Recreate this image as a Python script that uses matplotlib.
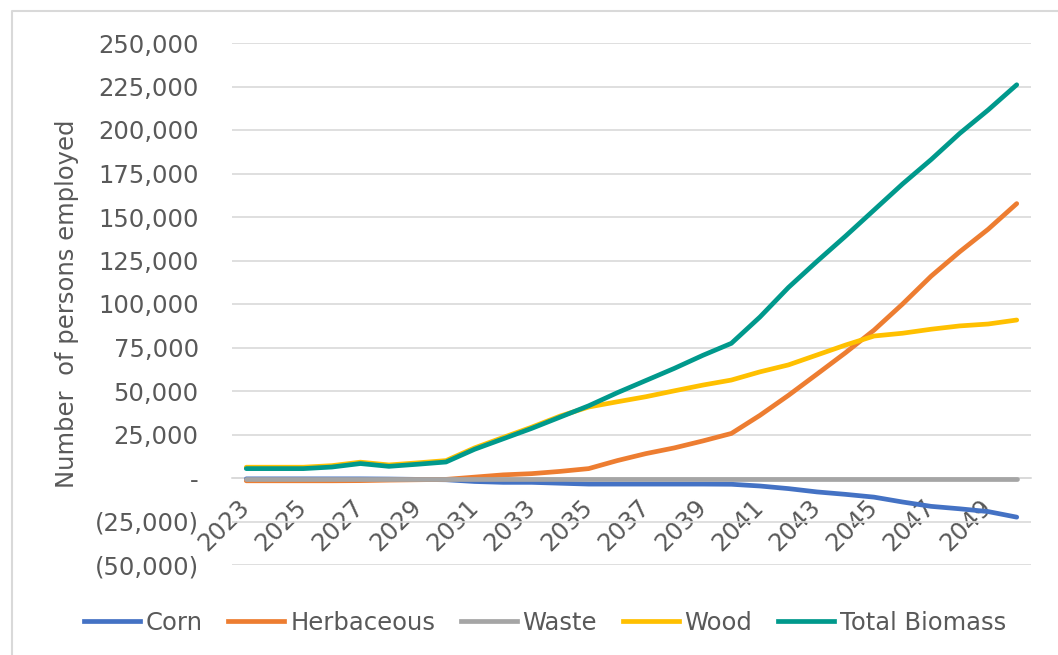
import matplotlib
matplotlib.use('Agg')
import matplotlib.pyplot as plt
from matplotlib.ticker import FuncFormatter
from matplotlib.lines import Line2D

# jobs per feedstock, 2023 - 2050
years = list(range(2023, 2051))
corn = [-500, -500, -500, -500, -500, -600, -800, -1000, -2000, -2500,
        -2500, -3000, -3500, -3500, -3500, -3500, -3500, -3600, -4600, -6100,
        -8000, -9400, -11000, -13800, -16300, -17700, -19300, -22500]
herbaceous = [-1600, -1600, -1600, -1600, -1500, -1200, -1000, -800, 500, 1800,
              2500, 3800, 5400, 10000, 14000, 17300, 21300, 25600, 36000, 47500,
              59700, 72000, 85000, 100000, 116000, 130000, 143000, 157700]
waste = [-600] * 28
wood = [6200, 6200, 6200, 7100, 9100, 7500, 8700, 10000, 17300, 23300,
        29200, 35600, 40800, 43800, 46700, 50100, 53400, 56300, 61000, 65000,
        70700, 76400, 81600, 83200, 85500, 87400, 88500, 90800]
total = [5400, 5400, 5400, 6300, 8300, 6700, 7900, 9200, 16500, 22500,
         28500, 35000, 41500, 49000, 56000, 63000, 70500, 77400, 92500, 109500,
         124500, 139000, 154000, 169000, 183000, 198000, 211500, 226000]

series_names = ['Corn', 'Herbaceous', 'Waste', 'Wood', 'Total Biomass']
series_data = [corn, herbaceous, waste, wood, total]
colors = ['#4472C4', '#ED7D31', '#A5A5A5', '#FFC000', '#00998C']
xtick_years = years[::2]

txt = '#595959'
grid = '#D9D9D9'
fs = 17.5

W, H = 1058, 655
fig = plt.figure(figsize=(W / 100, H / 100), dpi=100)
ax = fig.add_axes([232 / W, 1 - 565 / H, (1031 - 232) / W, (565 - 43) / H])

for name, vals, c in zip(series_names, series_data, colors):
    ax.plot(years, vals, color=c, lw=3.4, label=name, zorder=3,
            solid_capstyle='round', solid_joinstyle='round')

ax.set_xlim(2022.5, 2050.5)
ax.set_ylim(-50000, 250000)
ax.set_yticks(range(-50000, 250001, 25000))


def fmt(v, pos):
    if v == 0:
        return '-'
    if v < 0:
        return f'({abs(int(v)):,})'
    return f'{int(v):,}'


ax.yaxis.set_major_formatter(FuncFormatter(fmt))
ax.grid(axis='y', color=grid, lw=1.2)
ax.set_axisbelow(True)
for s in ['top', 'right', 'left']:
    ax.spines[s].set_visible(False)
ax.spines['bottom'].set_position(('data', 0))
ax.spines['bottom'].set_color(grid)
ax.spines['bottom'].set_linewidth(1.2)
ax.spines['bottom'].set_zorder(1)

ax.set_xticks(xtick_years)
ax.set_xticklabels([str(y) for y in xtick_years], rotation=45, ha='right', va='center',
                   rotation_mode='anchor')
ax.tick_params(axis='x', length=0, pad=18, labelsize=fs, labelcolor=txt)
ax.tick_params(axis='y', length=0, pad=24, labelsize=fs, labelcolor=txt)

fig.text(67 / W, 1 - 304 / H, 'Number  of persons employed', rotation=90, ha='center', va='center',
         fontsize=fs, color=txt)

handles = [Line2D([0], [0], color=c, lw=3.4) for c in colors]
fig.legend(handles, series_names, loc='center', bbox_to_anchor=(545 / W, 1 - 623 / H), ncol=5,
           frameon=False, fontsize=fs, labelcolor=txt, handlelength=2.3, handletextpad=0.25,
           columnspacing=1.05)

# chart border (left and top edges visible)
fig.add_artist(Line2D([12 / W, 12 / W, 1], [0, 1 - 11 / H, 1 - 11 / H], color=grid, lw=1.5,
                      transform=fig.transFigure))

fig.savefig('out.png', dpi=100)
